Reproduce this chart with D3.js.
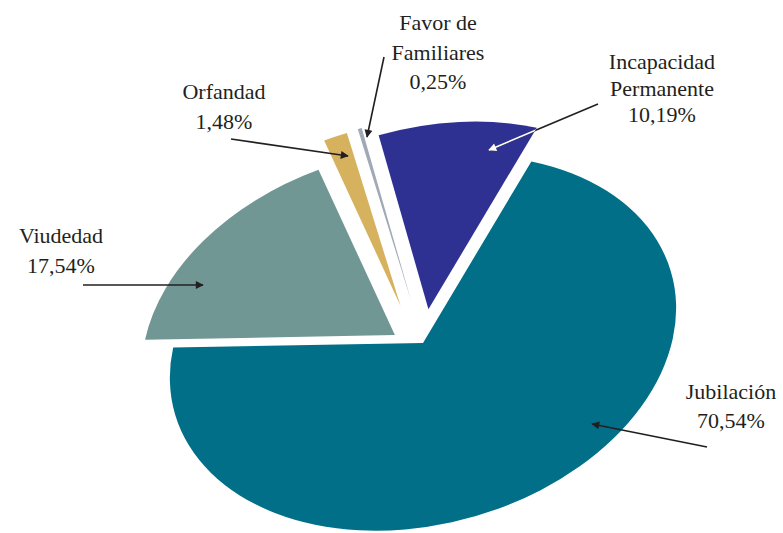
<!DOCTYPE html>
<html>
<head>
<meta charset="utf-8">
<script src="https://cdn.jsdelivr.net/npm/d3@7"></script>
<style>
  body { margin: 0; background: #fff; }
  text { font-family: "Liberation Serif", "DejaVu Serif", serif; font-size: 22px; fill: #231f20; }
</style>
</head>
<body>
<div class="piechart"></div>
<script>
// data
var categories = ["Jubilación", "Viudedad", "Orfandad", "Favor de Familiares", "Incapacidad Permanente"];
var values = [70.54, 17.54, 1.48, 0.25, 10.19];
var labelLines = [["Jubilación"], ["Viudedad"], ["Orfandad"], ["Favor de", "Familiares"], ["Incapacidad", "Permanente"]];
var colors = ["#006f87", "#719795", "#d6b25f", "#a1a8b6", "#2e3192"];

var width = 783, height = 533;
// tilted ellipse the pie is drawn on
var cx = 423, cy = 343, rx = 258, ry = 181, tilt = -15.7;
var startDeg = 36.5;
// explode distance (fraction of radius) and direction for each slice
var explode = [
  { k: 0, a: 0 },
  { k: 0.128, a: 311 },
  { k: 0.235, a: 349 },
  { k: 0.235, a: 0 },
  { k: 0.18, a: 18 }
];
// label anchors and leader arrows
var labelPos = [
  { x: 731, y: 399, lh: 29, from: [707, 447], to: [592, 424] },
  { x: 61, y: 243, lh: 30, from: [83, 285], to: [203, 285] },
  { x: 224, y: 99, lh: 30, from: [231, 139], to: [348, 156] },
  { x: 438, y: 30, lh: 29.5, from: [384, 57], to: [367, 137] },
  { x: 662, y: 69, lh: 26.5, from: [598, 104], to: [489, 150], white: true }
];

var fmt = function(v) { return d3.format(".2f")(v).replace(".", ",") + "%"; };

var svg = d3.select(".piechart")
  .append("svg")
    .attr("width", width)
    .attr("height", height);

var defs = svg.append("defs");
["black", "white"].forEach(function(c) {
  defs.append("marker")
      .attr("id", "arrow-" + c)
      .attr("viewBox", "0 0 10 10")
      .attr("refX", 9)
      .attr("refY", 5)
      .attr("markerUnits", "userSpaceOnUse")
      .attr("markerWidth", 13)
      .attr("markerHeight", 8)
      .attr("orient", "auto")
    .append("path")
      .attr("d", "M0,0L10,5L0,10z")
      .attr("fill", c == "black" ? "#231f20" : "#fff");
});

var pie = d3.pie()
  .sort(null)
  .value(function(d) { return d; })
  .startAngle(startDeg * Math.PI / 180)
  .endAngle(startDeg * Math.PI / 180 + 2 * Math.PI);

var arcs = pie(values);

var arc = d3.arc()
  .innerRadius(0)
  .outerRadius(100);

function sliceTransform(d, i) {
  var e = explode[i];
  var a = e.a * Math.PI / 180;
  var ex = 100 * e.k * Math.sin(a), ey = -100 * e.k * Math.cos(a);
  return "translate(" + cx + "," + cy + ") rotate(" + tilt + ") scale(" + (rx / 100) + "," + (ry / 100) + ") translate(" + ex + "," + ey + ")";
}

svg.selectAll(".slice")
  .data(arcs)
  .enter().append("path")
    .attr("class", "slice")
    .attr("d", arc)
    .attr("transform", sliceTransform)
    .attr("fill", function(d, i) { return colors[i]; });

// clip for the white part of the Incapacidad arrow
var clip = defs.append("clipPath").attr("id", "clip-inc");
clip.append("path")
  .attr("d", arc(arcs[4]))
  .attr("transform", sliceTransform(arcs[4], 4));

// leader arrows
labelPos.forEach(function(p, i) {
  svg.append("line")
      .attr("x1", p.from[0]).attr("y1", p.from[1])
      .attr("x2", p.to[0]).attr("y2", p.to[1])
      .attr("stroke", "#231f20")
      .attr("stroke-width", 1.6)
      .attr("marker-end", "url(#arrow-black)");
  if (p.white) {
    svg.append("g")
        .attr("clip-path", "url(#clip-inc)")
      .append("line")
        .attr("x1", p.from[0]).attr("y1", p.from[1])
        .attr("x2", p.to[0]).attr("y2", p.to[1])
        .attr("stroke", "#fff")
        .attr("stroke-width", 1.6)
        .attr("marker-end", "url(#arrow-white)");
  }
});

// labels
labelPos.forEach(function(p, i) {
  var lines = labelLines[i].concat([fmt(values[i])]);
  var t = svg.append("text")
      .attr("text-anchor", "middle")
      .attr("x", p.x)
      .attr("y", p.y);
  lines.forEach(function(s, j) {
    t.append("tspan")
        .attr("x", p.x)
        .attr("dy", j == 0 ? 0 : p.lh)
        .text(s);
  });
});
</script>
</body>
</html>
